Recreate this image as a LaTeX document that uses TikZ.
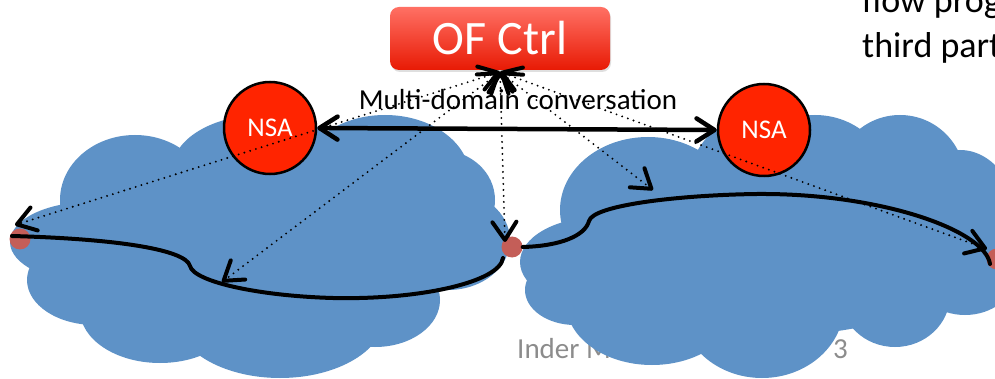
\documentclass[tikz,border=0pt]{standalone}
\usepackage{fontspec}
\setmainfont{Carlito}
\usetikzlibrary{arrows.meta,shadows}
\definecolor{cloudblue}{RGB}{94,146,199}
\definecolor{nsared}{RGB}{255,36,0}
\definecolor{portred}{RGB}{196,94,88}
\definecolor{footgray}{RGB}{140,140,140}
\definecolor{ctrltop}{RGB}{255,112,100}
\definecolor{ctrlmid}{RGB}{255,42,24}
\definecolor{ctrlbot}{RGB}{232,26,4}
\tikzset{
  sbarb/.tip={Straight Barb[length=18pt,width=24pt,line width=4pt,round]},
  tbarb/.tip={Straight Barb[length=18pt,width=23pt,line width=4.5pt,round]},
}
\begin{document}
\begin{tikzpicture}[x=1pt,y=-1pt,
  cloud/.style={fill=cloudblue},
  flow/.style={line width=4pt,line cap=round,line join=round},
  port/.style={circle,fill=portred,minimum size=21pt,inner sep=0pt},
  nsa/.style={circle,draw=black,line width=2.5pt,fill=nsared,minimum size=92pt,
    inner sep=0pt,text=white,font=\fontsize{27}{30}\selectfont},
  ctrl/.style={rounded corners=9pt,minimum width=220pt,minimum height=63pt,
    top color=ctrltop,middle color=ctrlmid,bottom color=ctrlbot,
    drop shadow={opacity=0.25,shadow xshift=1pt,shadow yshift=-2pt},
    text=white,font=\fontsize{48}{50}\selectfont},
  signal/.style={line width=2.1pt,dash pattern=on 0pt off 6pt,line cap=round,sbarb-sbarb},
  talk/.style={line width=4.5pt,tbarb-tbarb},
  slide/.style={font=\fontsize{36}{40}\selectfont,inner sep=0pt},
  footer/.style={font=\fontsize{29}{32}\selectfont,text=footgray,inner sep=0pt},
]
\useasboundingbox (0,0) rectangle (995,379);
\clip (0,0) rectangle (995,379);

% footer, partly hidden by the right cloud
\node[footer,anchor=base west] (foot1) at (517,358) {Inder M};
\node[footer,anchor=base east] (foot2) at (848,358) {3};

% left domain cloud
\begin{scope}[cloud]
\fill (135,200) ellipse (75 and 65);
\fill (262,170) ellipse (90 and 55);
\fill (385,178) ellipse (85 and 63);
\fill (440,200) ellipse (55 and 50);
\fill (448,240) ellipse (62 and 50);
\fill (375,300) ellipse (65 and 47);
\fill (280,315) ellipse (105 and 63);
\fill (160,310) ellipse (80 and 53);
\fill (95,280) ellipse (68 and 45);
\fill (90,242) ellipse (80 and 40);
\fill (270,245) ellipse (190 and 85);
\end{scope}

% right domain cloud
\begin{scope}[cloud]
\fill (648,210) ellipse (88 and 73);
\fill (600,262) ellipse (80 and 45);
\fill (575,290) ellipse (50 and 35);
\fill (652,303) ellipse (86 and 62);
\fill (762,305) ellipse (82 and 73);
\fill (895,295) ellipse (55 and 52);
\fill (760,180) ellipse (70 and 65);
\fill (815,185) ellipse (75 and 70);
\fill (900,180) ellipse (65 and 65);
\fill (960,230) ellipse (60 and 80);
\fill (965,275) ellipse (50 and 40);
\fill (780,250) ellipse (190 and 85);
\end{scope}

% edge ports
\node[port] (pL) at (20,239) {};
\node[port] (pM) at (512,247) {};
\node[port] (pR) at (997,259) {};

% data paths through each domain
\coordinate (l0) at (12,236);
\coordinate (l1) at (190,266);
\coordinate (l2) at (333,298);
\coordinate (l3) at (503,258);
\draw[flow] (l0) .. controls (120,239) and (186,250) .. (l1)
  .. controls (194,282) and (260,296) .. (l2)
  .. controls (420,300) and (500,282) .. (l3);
\coordinate (r0) at (pM.east);
\coordinate (r1) at (589,221);
\coordinate (r2) at (757,194);
\coordinate (r3) at (990,264);
\draw[flow] (r0) .. controls (560,246) and (585,236) .. (r1)
  .. controls (593,205) and (680,195) .. (r2)
  .. controls (880,193) and (985,230) .. (r3);

% network service agents
\node[nsa] (nsaL) at (270,128) {NSA};
\node[nsa] (nsaR) at (764,130) {NSA};
\draw[talk] (nsaL.east) -- (nsaR.west);

% controller and its signalling
\node[ctrl] (ctrl) at (500,38.5) {OF Ctrl};
\coordinate (hub) at (500,72);
\coordinate (t1) at (15,225);
\coordinate (t2) at (222,282);
\coordinate (t3) at (505,242);
\coordinate (t4) at (653,190);
\coordinate (t5) at (987,249);
\draw[signal] (hub) -- (t1);
\draw[signal] (hub) -- (t2);
\draw[signal] (hub) -- (t3);
\draw[signal] (hub) -- (t4);
\draw[signal] (hub) -- (t5);

\node[anchor=base,inner sep=0pt,font=\fontsize{29}{33}\selectfont] (conv) at (518,110) {Multi-domain conversation};

% slide text running off the right edge
\node[slide,anchor=base west] (s1) at (862,13) {flow prog};
\node[slide,anchor=base west] (s2) at (862,58) {third part};
\end{tikzpicture}
\end{document}
